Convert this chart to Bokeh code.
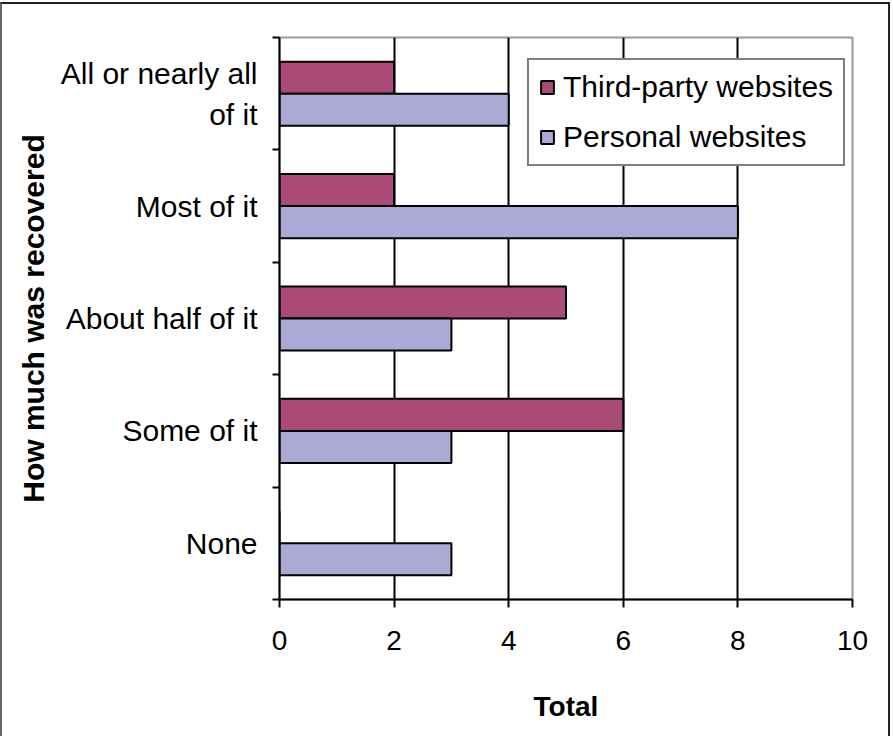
from bokeh.plotting import figure
from bokeh.models import ColumnDataSource, FixedTicker, Range1d, Legend, LegendItem, InlineStyleSheet
from bokeh.transform import dodge
from bokeh.embed import file_html
from bokeh.resources import INLINE

categories = ["All or nearly all\nof it", "Most of it", "About half of it", "Some of it", "None"]
third_party = [2, 2, 5, 6, 0]
personal = [4, 8, 3, 3, 3]
x_ticks = [0, 2, 4, 6, 8, 10]
grid_ticks = [2, 4, 6, 8]
series_names = ["Third-party websites", "Personal websites"]
series_colors = ["#A94A77", "#AAAAD5"]
y_title = "How much was recovered"
x_title = "Total"

FONT = "Liberation Sans"
n = len(categories)
pos = [n - i - 0.5 for i in range(n)]
src = ColumnDataSource(dict(pos=pos, third=third_party, personal=personal))

frame_css = InlineStyleSheet(css="""
:host { position: relative; overflow: hidden; }
:host::after {
  content: ""; position: absolute; left: 0px; top: 2px; right: 3px; bottom: -10px;
  border-top: 2px solid #222; border-right: 2px solid #222; border-left: 2px solid #666;
  pointer-events: none; z-index: 100;
}
""")

p = figure(width=893, height=736, output_backend="svg", toolbar_location=None,
           x_range=Range1d(0, 10), y_range=Range1d(0, n),
           min_border_left=279, min_border_right=41, min_border_top=37, min_border_bottom=137,
           stylesheets=[frame_css])
p.outline_line_color = "#999999"
p.outline_line_width = 2

bar_h = 0.285
r1 = p.hbar(y=dodge("pos", bar_h / 2), left=0, right="third", height=bar_h, source=src,
            fill_color=series_colors[0], line_color="black", line_width=2)
r2 = p.hbar(y=dodge("pos", -bar_h / 2), left=0, right="personal", height=bar_h, source=src,
            fill_color=series_colors[1], line_color="black", line_width=2)

# grid
p.ygrid.visible = False
p.xgrid.ticker = FixedTicker(ticks=grid_ticks)
p.xgrid.grid_line_color = "black"
p.xgrid.grid_line_width = 2

# x axis
xa = p.xaxis[0]
xa.ticker = FixedTicker(ticks=x_ticks)
xa.axis_line_color = "black"
xa.axis_line_width = 2
xa.major_tick_in = 0
xa.major_tick_out = 8
xa.major_tick_line_width = 2
xa.minor_tick_line_color = None
xa.major_label_text_font = FONT
xa.major_label_text_font_size = "28px"
xa.major_label_text_color = "black"
xa.major_label_standoff = 23
xa.axis_label = x_title
xa.axis_label_text_font = FONT
xa.axis_label_text_font_size = "28px"
xa.axis_label_text_font_style = "bold"
xa.axis_label_text_color = "black"
xa.axis_label_standoff = 38

# y axis
ya = p.yaxis[0]
ya.ticker = FixedTicker(ticks=pos, minor_ticks=list(range(n + 1)))
ya.major_label_overrides = {pos[i]: categories[i] for i in range(n)}
ya.axis_line_color = "black"
ya.axis_line_width = 2
ya.major_tick_in = 0
ya.major_tick_out = 7
ya.major_tick_line_color = None
ya.minor_tick_in = 0
ya.minor_tick_out = 7
ya.minor_tick_line_color = "black"
ya.minor_tick_line_width = 2
ya.major_label_text_font = FONT
ya.major_label_text_font_size = "30px"
ya.major_label_text_color = "black"
ya.major_label_text_line_height = 1.25
ya.major_label_standoff = 15
ya.axis_label = y_title
ya.axis_label_text_font = FONT
ya.axis_label_text_font_size = "30px"
ya.axis_label_text_font_style = "bold"
ya.axis_label_text_color = "black"
ya.axis_label_standoff = 8

legend = Legend(items=[LegendItem(label=series_names[0], renderers=[r1]),
                       LegendItem(label=series_names[1], renderers=[r2])],
                location=(248, 433))
legend.border_line_color = "black"
legend.border_line_width = 2
legend.background_fill_color = "white"
legend.background_fill_alpha = 1
legend.label_text_font = FONT
legend.label_text_font_size = "30px"
legend.label_text_color = "black"
legend.glyph_width = 16
legend.glyph_height = 16
legend.label_height = 30
legend.label_standoff = 8
legend.spacing = 16
legend.padding = 10
legend.margin = 0
p.add_layout(legend, "center")

open("out.html", "w").write(file_html(p, INLINE))
